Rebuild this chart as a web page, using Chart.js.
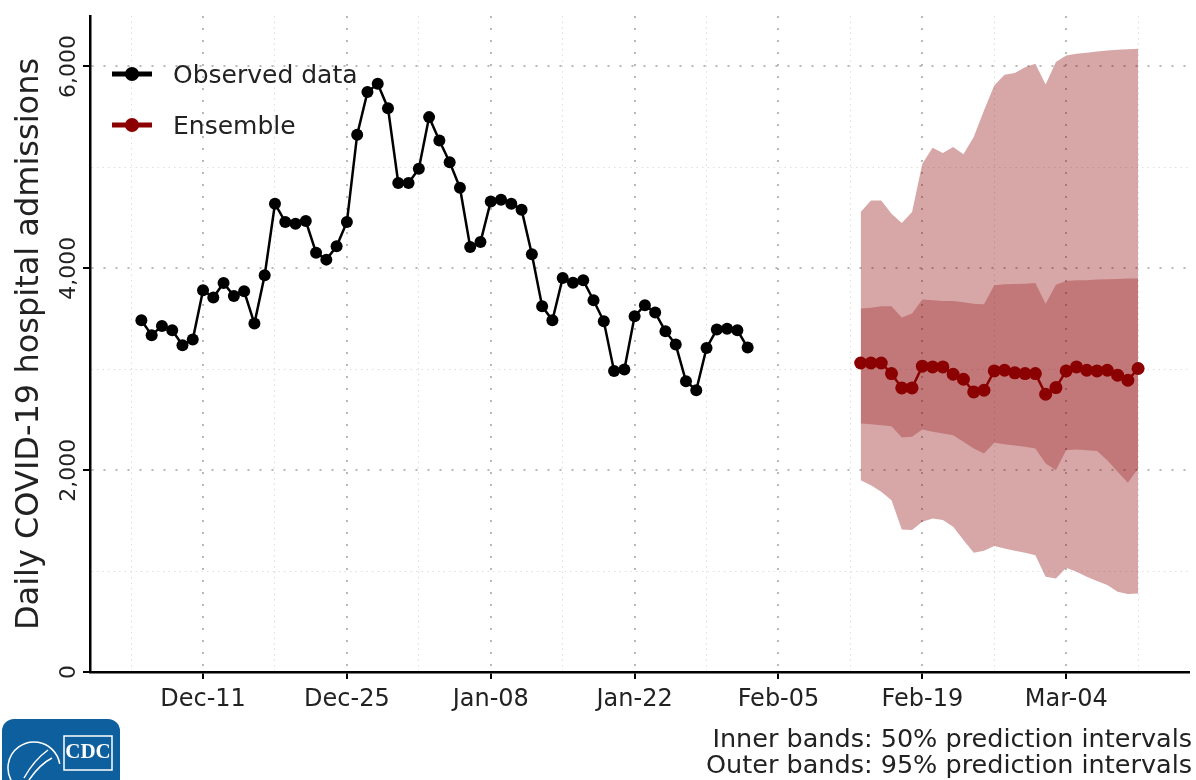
<!DOCTYPE html>
<html>
<head>
<meta charset="utf-8">
<script src="https://cdn.jsdelivr.net/npm/chart.js@4.4.1/dist/chart.umd.min.js"></script>
<style>
  html, body { margin: 0; padding: 0; background: #fff; }
  #wrap { width: 1196px; height: 780px; }
</style>
</head>
<body>
<div id="wrap"><canvas id="admissions" width="1196" height="780"></canvas></div>
<script>
// observed daily admissions, one value per day from observedStart
const observedStart = "2023-12-05";
const observedValues = [3485, 3337, 3429, 3386, 3238, 3294, 3782, 3710, 3855, 3726,
  3772, 3452, 3931, 4640, 4459, 4442, 4468, 4155, 4086, 4218,
  4459, 5324, 5746, 5828, 5587, 4845, 4845, 4986, 5498, 5267,
  5052, 4799, 4211, 4260, 4663, 4680, 4640, 4581, 4139, 3624,
  3485, 3904, 3858, 3881, 3683, 3475, 2983, 2997, 3525, 3634,
  3561, 3376, 3244, 2881, 2792, 3211, 3393, 3400, 3386, 3215];

// ensemble forecast, one value per day from ensembleStart
const ensembleStart = "2024-02-13";
const ensembleMedian = [3062, 3062, 3062, 2957, 2815, 2815, 3030, 3023, 3023, 2950,
  2901, 2775, 2792, 2983, 2990, 2964, 2957, 2957, 2752, 2818,
  2983, 3023, 2990, 2983, 2990, 2941, 2891, 3007];
const ensembleUpper95 = [4558, 4673, 4673, 4541, 4449, 4558, 5036, 5195, 5142, 5201,
  5129, 5300, 5564, 5812, 5917, 5934, 5993, 6026, 5822, 6043,
  6109, 6125, 6135, 6149, 6158, 6165, 6171, 6175];
const ensembleUpper50 = [3601, 3610, 3624, 3624, 3512, 3551, 3690, 3683, 3677, 3677,
  3663, 3650, 3644, 3832, 3842, 3845, 3848, 3855, 3650, 3838,
  3875, 3881, 3881, 3888, 3891, 3894, 3898, 3898];
const ensembleLower50 = [2462, 2455, 2446, 2436, 2323, 2330, 2403, 2380, 2363, 2347,
  2281, 2215, 2165, 2271, 2257, 2244, 2231, 2215, 2066, 2000,
  2198, 2205, 2198, 2191, 2099, 1983, 1875, 2017];
const ensembleLower95 = [1901, 1851, 1785, 1703, 1412, 1406, 1488, 1521, 1505, 1439,
  1307, 1181, 1201, 1248, 1224, 1201, 1181, 1158, 943, 927,
  1033, 993, 943, 901, 861, 795, 772, 779];

const xRange = ["2023-11-30", "2024-03-16"];
const xTickDates = ["2023-12-11", "2023-12-25", "2024-01-08", "2024-01-22", "2024-02-05", "2024-02-19", "2024-03-04"];
const xTickLabels = ["Dec-11", "Dec-25", "Jan-08", "Jan-22", "Feb-05", "Feb-19", "Mar-04"];
const yRange = [0, 6500];
const yTickValues = [0, 2000, 4000, 6000];
const yTickLabels = ["0", "2,000", "4,000", "6,000"];
const yMinorValues = [1000, 3000, 5000];
const legendLabels = ["Observed data", "Ensemble"];
const footnoteLines = ["Inner bands: 50% prediction intervals", "Outer bands: 95% prediction intervals"];

const FONT = "'DejaVu Sans', sans-serif";
const TEXT = "#222";
const RED = "#8b0000";

const DAY = 86400000;
const toDay = (s) => Date.parse(s + "T00:00:00Z") / DAY;
const series = (start, values) => values.map((v, i) => ({ x: toDay(start) + i, y: v }));

const majorX = xTickDates.map(toDay);
const minorX = majorX.map((d) => d - 7).concat([majorX[majorX.length - 1] + 7]);
const isMajorX = (c) => c.tick && majorX.includes(c.tick.value);
const isMajorY = (c) => c.tick && yTickValues.includes(c.tick.value);

const bandStyle = { borderWidth: 0, pointRadius: 0, pointHitRadius: 0 };

const decor = {
  id: "decor",
  afterDraw(chart) {
    const { ctx, chartArea } = chart;
    const yScale = chart.scales.y;
    ctx.save();

    // y tick labels, rotated like the original
    ctx.fillStyle = TEXT;
    ctx.font = `22px ${FONT}`;
    ctx.textAlign = "center";
    ctx.textBaseline = "middle";
    yTickValues.forEach((v, i) => {
      ctx.save();
      ctx.translate(chartArea.left - 21, yScale.getPixelForValue(v));
      ctx.rotate(-Math.PI / 2);
      ctx.fillText(yTickLabels[i], 0, 0);
      ctx.restore();
    });

    // legend in upper left of plot
    const colors = ["#000", RED];
    legendLabels.forEach((label, i) => {
      const y = chartArea.top + 58 + i * 51;
      const x = chartArea.left + 22;
      ctx.strokeStyle = colors[i];
      ctx.lineWidth = 5;
      ctx.beginPath();
      ctx.moveTo(x, y);
      ctx.lineTo(x + 40, y);
      ctx.stroke();
      ctx.fillStyle = colors[i];
      ctx.beginPath();
      ctx.arc(x + 20, y, 7, 0, Math.PI * 2);
      ctx.fill();
      ctx.fillStyle = TEXT;
      ctx.font = `25px ${FONT}`;
      ctx.textAlign = "left";
      ctx.textBaseline = "middle";
      ctx.fillText(label, x + 61, y + 2);
    });

    // footnote
    ctx.font = `25.5px ${FONT}`;
    ctx.textAlign = "right";
    ctx.textBaseline = "middle";
    ctx.fillStyle = TEXT;
    footnoteLines.forEach((line, i) => ctx.fillText(line, 1192, 740 + i * 26));

    // CDC badge
    ctx.fillStyle = "#0e5f9d";
    ctx.beginPath();
    ctx.roundRect(2, 719, 118, 80, 12);
    ctx.fill();
    ctx.strokeStyle = "#fff";
    ctx.lineWidth = 1.5;
    ctx.beginPath();
    ctx.arc(34, 768, 26, Math.PI * 0.55, Math.PI * 1.95);
    ctx.stroke();
    ctx.beginPath();
    ctx.moveTo(24, 778);
    ctx.quadraticCurveTo(34, 760, 48, 750);
    ctx.moveTo(29, 780);
    ctx.quadraticCurveTo(40, 764, 52, 758);
    ctx.stroke();
    ctx.strokeRect(64, 736, 48, 34);
    ctx.fillStyle = "#fff";
    ctx.font = "bold 21px 'Liberation Serif', serif";
    ctx.textAlign = "center";
    ctx.textBaseline = "middle";
    ctx.fillText("CDC", 88, 753);
    ctx.restore();
  },
};

new Chart(document.getElementById("admissions"), {
  type: "line",
  data: {
    datasets: [
      {
        label: legendLabels[0],
        data: series(observedStart, observedValues),
        borderColor: "#000",
        backgroundColor: "#000",
        borderWidth: 2.5,
        pointRadius: 6,
        pointBorderWidth: 0,
        pointBackgroundColor: "#000",
        order: 0,
      },
      {
        label: legendLabels[1],
        data: series(ensembleStart, ensembleMedian),
        borderColor: RED,
        backgroundColor: RED,
        borderWidth: 2.5,
        pointRadius: 6.5,
        pointBorderWidth: 0,
        pointBackgroundColor: RED,
        order: 0,
      },
      { label: "upper95", data: series(ensembleStart, ensembleUpper95), fill: 3, backgroundColor: "rgba(139,0,0,0.35)", order: 2, ...bandStyle },
      { label: "lower95", data: series(ensembleStart, ensembleLower95), fill: false, order: 2, ...bandStyle },
      { label: "upper50", data: series(ensembleStart, ensembleUpper50), fill: 5, backgroundColor: "rgba(139,0,0,0.28)", order: 1, ...bandStyle },
      { label: "lower50", data: series(ensembleStart, ensembleLower50), fill: false, order: 1, ...bandStyle },
    ],
  },
  options: {
    responsive: false,
    animation: false,
    layout: { padding: { top: 16, right: 3, bottom: 0, left: 0 } },
    plugins: { legend: { display: false }, tooltip: { enabled: false } },
    scales: {
      x: {
        type: "linear",
        min: toDay(xRange[0]),
        max: toDay(xRange[1]),
        afterBuildTicks: (scale) => {
          scale.ticks = majorX.concat(minorX).sort((a, b) => a - b).map((v) => ({ value: v }));
        },
        afterFit: (scale) => { scale.height = 108; },
        grid: {
          color: (c) => (isMajorX(c) ? "#b8b8b8" : "#dedede"),
          lineWidth: (c) => (isMajorX(c) ? 2 : 1),
          tickColor: (c) => (isMajorX(c) ? "#000" : "rgba(0,0,0,0)"),
          tickLength: 7,
          tickWidth: 2,
        },
        border: { color: "#000", width: 2.5, dash: (c) => (isMajorX(c) ? [2, 10] : [1.5, 4]) },
        ticks: {
          autoSkip: false,
          maxRotation: 0,
          minRotation: 0,
          padding: 6,
          color: TEXT,
          font: { family: FONT, size: 24 },
          callback: (v) => {
            const i = majorX.indexOf(v);
            return i >= 0 ? xTickLabels[i] : "";
          },
        },
      },
      y: {
        min: yRange[0],
        max: yRange[1],
        afterBuildTicks: (scale) => {
          scale.ticks = yTickValues.concat(yMinorValues).sort((a, b) => a - b).map((v) => ({ value: v }));
        },
        afterFit: (scale) => { scale.width = 90; },
        grid: {
          color: (c) => (c.tick && c.tick.value === 0 ? "rgba(0,0,0,0)" : isMajorY(c) ? "#b8b8b8" : "#dedede"),
          lineWidth: (c) => (isMajorY(c) ? 2 : 1),
          tickColor: (c) => (isMajorY(c) ? "#000" : "rgba(0,0,0,0)"),
          tickLength: 7,
          tickWidth: 2,
        },
        border: { color: "#000", width: 2.5, dash: (c) => (isMajorY(c) ? [2, 10] : [1.5, 4]) },
        ticks: { display: false },
        title: {
          display: true,
          text: "Daily COVID-19 hospital admissions",
          color: TEXT,
          font: { family: FONT, size: 32 },
          padding: { top: 10, bottom: 0 },
        },
      },
    },
  },
  plugins: [decor],
});
</script>
</body>
</html>
